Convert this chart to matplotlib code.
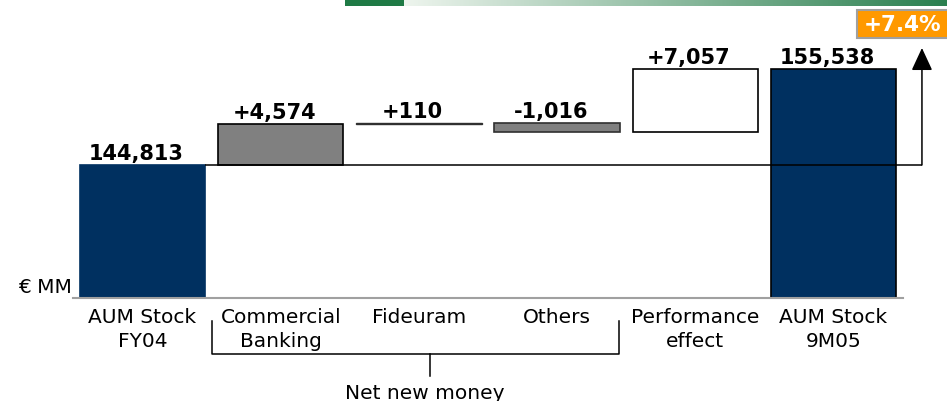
import matplotlib
matplotlib.use("Agg")
import matplotlib.pyplot as plt
import numpy as np
from matplotlib.patches import Rectangle

# ---- data ----
categories = ["AUM Stock\nFY04", "Commercial\nBanking", "Fideuram", "Others",
              "Performance\neffect", "AUM Stock\n9M05"]
start_value = 144813
deltas = [4574, 110, -1016, 7057]
end_value = 155538
value_labels = ["144,813", "+4,574", "+110", "-1,016", "+7,057", "155,538"]
growth_label = "+7.4%"
unit_label = "€ MM"
group_label = "Net new money"

W, H = 947, 402
fig = plt.figure(figsize=(W / 100, H / 100), dpi=100)
plt.rcParams['font.family'] = ['DejaVu Sans']

def fx(px):
    return px / W

def fy(py):
    return 1 - py / H

ax_left, ax_right, ax_bottom = 73.4, 902.6, 299
ax = fig.add_axes([fx(ax_left), fy(ax_bottom), (ax_right - ax_left) / W, ax_bottom / H])
ax.set_xlim(-0.5, 5.5)
upp = 111.7
ax.set_ylim(start_value - (ax_bottom - 166) * upp, start_value + 166 * upp)

for s in ["top", "right", "left"]:
    ax.spines[s].set_visible(False)
ax.spines["bottom"].set_color("#a0a0a0")
ax.spines["bottom"].set_linewidth(1.5)
ax.set_yticks([])

# compute waterfall
ymin = ax.get_ylim()[0]
bottoms = [ymin]
heights = [start_value - ymin]
cum = start_value
for d in deltas:
    lo = min(cum, cum + d)
    bottoms.append(lo)
    heights.append(abs(d))
    cum += d
bottoms.append(ymin)
heights.append(end_value - ymin)
tops = [b + h for b, h in zip(bottoms, heights)]

navy = "#003060"
faces = [navy, "#808080", "#404040", "#808080", "white", navy]
edges = [navy, "black", "#303030", "#303030", "black", "black"]
x = np.arange(len(categories))
width = 0.908
for i in range(len(categories)):
    ax.bar(x[i], heights[i], bottom=bottoms[i], width=width, color=faces[i],
           edgecolor=edges[i], linewidth=1.2 if i != 2 else 1.0, zorder=2)

# value labels
for i in range(len(categories)):
    ax.annotate(value_labels[i], (x[i], tops[i]), xytext=(-4.5, 4.5), textcoords="offset points",
                ha="center", va="baseline", fontsize=15, fontweight="bold", color="black",
                zorder=5)

# connector line and arrow
arrow_x = 5.64
ax.plot([x[0] + width / 2, arrow_x], [start_value, start_value], color="black",
        lw=1.1, zorder=4, clip_on=False, solid_capstyle="butt")
arrow_top = start_value + 117 * upp
ax.annotate("", xy=(arrow_x, arrow_top), xytext=(arrow_x, start_value),
            arrowprops=dict(arrowstyle="-|>,head_length=1.4,head_width=0.65", color="black",
                            lw=1.1, shrinkA=0, shrinkB=0),
            annotation_clip=False, zorder=4)

# tick labels
ax.set_xticks(x)
ax.set_xticklabels(categories, fontsize=14.5, linespacing=1.3)
ax.tick_params(axis="x", length=0, pad=6.5)

# bracket for net new money
tr = ax.get_xaxis_transform()
def ay(py):
    return (ax_bottom - py) / ax_bottom
bl, br, bc = 0.5, 3.45, 2.08
ax.plot([bl, bl, br, br], [ay(322), ay(355), ay(355), ay(322)], transform=tr,
        color="black", lw=1.1, clip_on=False)
ax.plot([bc, bc], [ay(355), ay(377)], transform=tr, color="black", lw=1.1, clip_on=False)
ax.text(2.04, ay(399), group_label, transform=tr, ha="center", va="baseline",
        fontsize=14.5, clip_on=False)

# unit label
fig.text(fx(72), fy(293), unit_label, ha="right", va="baseline", fontsize=14.5)

# green gradient banner
gax = fig.add_axes([fx(345), fy(7), (W - 345) / W, 7 / H])
gax.set_axis_off()
n = W - 345
grad = np.zeros((1, n, 3))
light = np.array([0xEE, 0xF5, 0xEE]) / 255
dark = np.array([0x2A, 0x7F, 0x4F]) / 255
block = np.array([0x1F, 0x7A, 0x45]) / 255
for i in range(n):
    if i < 59:
        grad[0, i] = block
    else:
        t = (i - 59) / (n - 59)
        grad[0, i] = light * (1 - t) + dark * t
gax.imshow(grad, aspect="auto", extent=(0, 1, 0, 1))
gax.set_xlim(0, 1)
gax.set_ylim(0, 1)

# orange badge
fig.patches.append(Rectangle((fx(857), fy(39)), (W + 5 - 857) / W, 28 / H,
                             transform=fig.transFigure, facecolor="#FF9900",
                             edgecolor="#A0A0A0", linewidth=1.5))
fig.text(fx(864), fy(25), growth_label, ha="left", va="center", fontsize=15.5,
         fontweight="bold", color="white")

fig.savefig("out.png", dpi=100)
